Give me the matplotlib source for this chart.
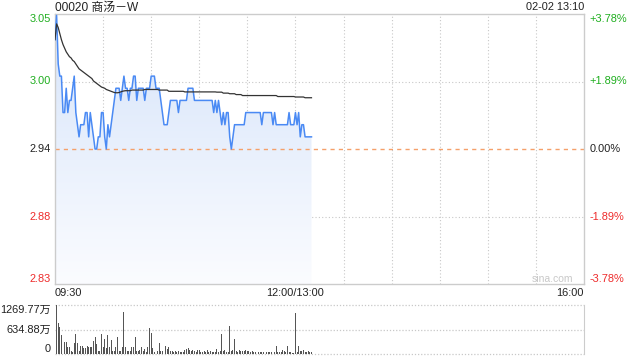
import matplotlib
matplotlib.use("Agg")
import matplotlib.pyplot as plt
import numpy as np
from matplotlib.patches import PathPatch
from matplotlib.transforms import blended_transform_factory as blend

plt.rcParams['font.family'] = ['Liberation Sans', 'Noto Sans CJK SC', 'DejaVu Sans']

title = "00020 商汤－W"
stamp = "02-02 13:10"
prev_close = 2.94
pct_levels = [3.78, 1.89, 0.00, -1.89, -3.78]
price_labels = ["3.05", "3.00", "2.94", "2.88", "2.83"]
pct_labels = ["+3.78%", "+1.89%", "0.00%", "-1.89%", "-3.78%"]
time_labels = ["09:30", "12:00/13:00", "16:00"]
vol_labels = ["1269.77万", "634.88万", "0"]
vol_max = 1269.77

price = [3.03, 3.05, 3.01, 3.00, 3.00, 2.97, 2.97, 2.99, 2.97, 2.98,
         2.98, 2.99, 3.00, 2.97, 2.96, 2.95, 2.96, 2.96, 2.96, 2.97,
         2.97, 2.95, 2.97, 2.96, 2.95, 2.94, 2.94, 2.95, 2.95, 2.97,
         2.97, 2.95, 2.94, 2.96, 2.95, 2.96, 2.97, 2.98, 2.99, 2.99,
         2.99, 2.98, 2.99, 3.00, 2.99, 2.99, 2.98, 2.99, 2.99, 3.00,
         3.00, 2.98, 2.99, 2.99, 2.99, 2.99, 2.98, 2.99, 2.99, 2.99,
         3.00, 3.00, 3.00, 2.99, 2.99, 2.99, 2.98, 2.97, 2.96, 2.96,
         2.96, 2.97, 2.98, 2.98, 2.98, 2.98, 2.98, 2.97, 2.98, 2.98,
         2.98, 2.98, 2.98, 2.99, 2.99, 2.99, 2.99, 2.98, 2.98, 2.98,
         2.98, 2.98, 2.98, 2.98, 2.98, 2.98, 2.98, 2.98, 2.98, 2.97,
         2.98, 2.97, 2.98, 2.97, 2.96, 2.97, 2.96, 2.97, 2.97, 2.95,
         2.94, 2.95, 2.96, 2.96, 2.96, 2.96, 2.96, 2.96, 2.96, 2.97,
         2.97, 2.97, 2.97, 2.97, 2.97, 2.97, 2.97, 2.97, 2.97, 2.96,
         2.97, 2.97, 2.97, 2.97, 2.97, 2.97, 2.96, 2.97, 2.96, 2.96,
         2.96, 2.96, 2.96, 2.96, 2.96, 2.96, 2.97, 2.96, 2.96, 2.96,
         2.97, 2.96, 2.97, 2.95, 2.96, 2.96, 2.95, 2.95, 2.95, 2.95,
         2.95]

avg_price = [3.030, 3.043, 3.040, 3.035, 3.030, 3.026, 3.023, 3.020, 3.018, 3.016,
             3.015, 3.013, 3.012, 3.010, 3.008, 3.006, 3.005, 3.004, 3.003, 3.002,
             3.001, 3.000, 2.999, 2.998, 2.996, 2.995, 2.994, 2.993, 2.992, 2.991,
             2.9905, 2.990, 2.989, 2.9885, 2.988, 2.9875, 2.987, 2.9865, 2.9863, 2.9863,
             2.9865, 2.987, 2.9875, 2.9878, 2.988, 2.988, 2.988, 2.988, 2.9885, 2.9885,
             2.9885, 2.9885, 2.9885, 2.9885, 2.9885, 2.9885, 2.989, 2.989, 2.989, 2.989,
             2.989, 2.989, 2.989, 2.989, 2.989, 2.9885, 2.9885, 2.9885, 2.9885, 2.9885,
             2.9885, 2.9875, 2.9875, 2.9875, 2.9875, 2.9875, 2.9875, 2.9875, 2.9875, 2.9875,
             2.9875, 2.987, 2.987, 2.987, 2.987, 2.987, 2.987, 2.987, 2.987, 2.987,
             2.987, 2.987, 2.987, 2.987, 2.987, 2.987, 2.987, 2.987, 2.987, 2.987,
             2.987, 2.9868, 2.9868, 2.9868, 2.9868, 2.986, 2.986, 2.986, 2.986, 2.9855,
             2.9855, 2.9855, 2.9855, 2.9848, 2.9848, 2.9848, 2.9848, 2.984, 2.984, 2.984,
             2.984, 2.984, 2.984, 2.984, 2.984, 2.984, 2.984, 2.984, 2.984, 2.984,
             2.984, 2.984, 2.984, 2.984, 2.984, 2.984, 2.984, 2.984, 2.984, 2.9832,
             2.9832, 2.9832, 2.9832, 2.9832, 2.9832, 2.9832, 2.9832, 2.9832, 2.9832, 2.9832,
             2.9828, 2.9828, 2.9828, 2.9828, 2.9828, 2.9828, 2.9822, 2.9822, 2.9822, 2.9822,
             2.9822]

volume = [1016, 1270, 804, 694, 500, 200, 322, 322, 186, 169,
          85, 60, 296, 525, 296, 85, 212, 212, 152, 144,
          212, 169, 169, 186, 339, 440, 254, 85, 85, 508,
          169, 381, 144, 491, 169, 364, 68, 85, 186, 440,
          68, 68, 186, 1083, 186, 68, 85, 68, 169, 169,
          440, 68, 68, 102, 169, 68, 127, 60, 169, 677,
          540, 150, 50, 50, 85, 296, 85, 85, 169, 212,
          127, 169, 85, 68, 50, 85, 50, 85, 50, 50,
          60, 112, 129, 154, 112, 69, 94, 69, 43, 112,
          94, 43, 43, 69, 50, 112, 43, 69, 43, 60,
          43, 129, 60, 80, 523, 69, 94, 60, 40, 738,
          69, 94, 395, 69, 43, 94, 69, 80, 69, 94,
          69, 69, 43, 69, 43, 43, 43, 43, 43, 43,
          43, 50, 43, 43, 50, 43, 94, 43, 197, 43,
          43, 43, 94, 69, 43, 215, 43, 43, 30, 30,
          1072, 60, 215, 69, 69, 94, 43, 43, 69, 43,
          43]

n = len(price)
x = np.arange(n)
ylo = prev_close * (1 - pct_levels[0] / 100)
yhi = prev_close * (1 + pct_levels[0] / 100)

W, H = 640, 360
fig = plt.figure(figsize=(6.4, 3.6), dpi=100)
L, R = 55, 584
ax = fig.add_axes([L / W, 1 - 284 / H, (R - L) / W, (284 - 14) / H])
axv = fig.add_axes([L / W, 1 - 354 / H, (R - L) / W, (354 - 305) / H])

grid_c = '#c8c8c8'
green = '#1fae1f'
red = '#ee2b2b'
fs = 7.9

# main panel
ax.set_xlim(0, 330)
ax.set_ylim(ylo, yhi)
for s in ax.spines.values():
    s.set_color('#cccccc')
    s.set_linewidth(1.0)
ax.set_xticks([])
ax.set_yticks([])
for gx in range(30, 330, 30):
    ax.axvline(gx, color=grid_c, lw=0.8, ls=(0, (1, 2)), zorder=1)
for p in (pct_levels[1], pct_levels[3]):
    ax.axhline(prev_close * (1 + p / 100), color=grid_c, lw=0.8, ls=(0, (1, 2)), zorder=1)
ax.axhline(prev_close, color='#f5a06a', lw=1.0, ls=(0, (3, 3)), zorder=2)

# gradient fill under price
poly = ax.fill_between(x, price, ylo, color='none', lw=0)
path = poly.get_paths()[0]
patch = PathPatch(path, transform=ax.transData, facecolor='none', edgecolor='none')
ax.add_patch(patch)
top_c = np.array([214, 228, 250]) / 255
bot_c = np.array([251, 252, 255]) / 255
t = np.linspace(0, 1, 256)[:, None]
grad = (top_c[None, :] * (1 - t) + bot_c[None, :] * t)[:, None, :]
im = ax.imshow(grad, extent=[0, n - 1, ylo, yhi], aspect='auto', origin='upper', zorder=1.5)
im.set_clip_path(patch)

ax.plot(x, price, color='#4a8af4', lw=1.1, zorder=4)
ax.plot(x, avg_price, color='#333333', lw=0.9, zorder=5)

# y labels
tl = blend(ax.transAxes, ax.transData)
for i, p in enumerate(pct_levels):
    yv = prev_close * (1 + p / 100)
    col = green if p > 0 else (red if p < 0 else '#222222')
    va = 'top' if i == 0 else ('bottom' if i == len(pct_levels) - 1 else 'center')
    ax.text(-0.008, yv, price_labels[i], transform=tl, ha='right', va=va, color=col, fontsize=fs)
    ax.text(1.011, yv, pct_labels[i], transform=tl, ha='left', va=va, color=col, fontsize=fs)

# x labels
fig.text(L / W, 1 - 293.5 / H, time_labels[0], ha='left', va='center', fontsize=fs, color='#222222')
fig.text((L + (R - L) * 150 / 330) / W, 1 - 293.5 / H, time_labels[1], ha='center', va='center', fontsize=fs, color='#222222')
fig.text(R / W, 1 - 293.5 / H, time_labels[2], ha='right', va='center', fontsize=fs, color='#222222')

fig.text(L / W, 1 - 7.5 / H, title, ha='left', va='center', fontsize=8.6, color='#222222')
fig.text(R / W, 1 - 7.5 / H, stamp, ha='right', va='center', fontsize=fs, color='#222222')
fig.text(552 / W, 1 - 279 / H, "sina.com", ha='center', va='center', fontsize=7.5, color='#c8c8c8')

# volume panel
axv.set_xlim(0, 330)
axv.set_ylim(0, vol_max)
axv.set_xticks([])
axv.set_yticks([])
for k in ('left', 'top', 'bottom'):
    axv.spines[k].set_visible(False)
axv.spines['right'].set_color('#cccccc')
for yv in (0, vol_max / 2, vol_max):
    axv.axhline(yv, color=grid_c, lw=0.9, ls=(0, (1, 1.5)), zorder=1, clip_on=False)
axv.bar(x, volume, width=0.6, color='#555555', zorder=3)
tv = blend(axv.transAxes, axv.transData)
vys = [vol_max, vol_max / 2, 0]
vas = ['top', 'center', 'bottom']
for lab, yv, va in zip(vol_labels, vys, vas):
    axv.text(-0.008, yv, lab, transform=tv, ha='right', va=va, fontsize=fs, color='#222222')

fig.savefig("out.png", dpi=100)
